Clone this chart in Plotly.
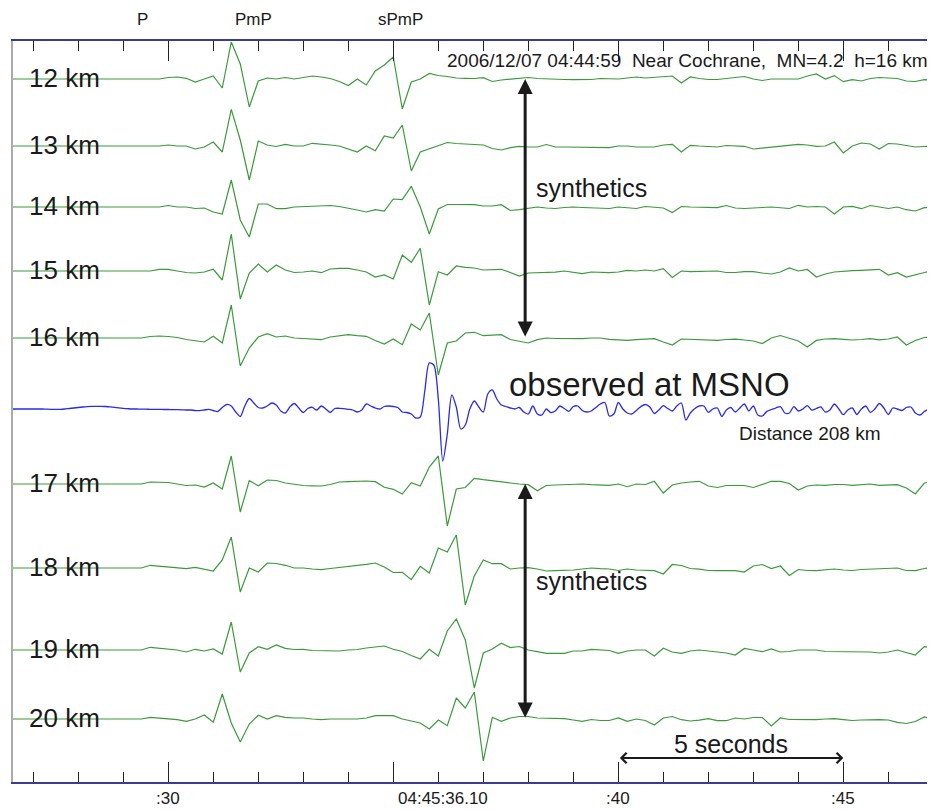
import numpy as np
import plotly.graph_objects as go

# time in seconds after 04:45:00
X_MIN, X_MAX = 26.55, 46.97
SYN_START, SYN_STEP = 29.4, 0.2
OBS_START, OBS_STEP = 26.5, 0.1

depth_labels = ["12 km", "13 km", "14 km", "15 km", "16 km",
                "17 km", "18 km", "19 km", "20 km"]

# synthetic amplitudes (29.4 s .. 47.0 s, every 0.2 s)
syn_12 = [0, 0, 0, 1.5, 2, 0.7, -3, 0, 3, -9,
          37, 15, -28, -2, 1, 0, 1.5, 0, 1.5, 3,
          2, 0.5, -2.5, -6.5, 0, -6, 8, 14, 22, -30,
          -3, 0, 5.5, 3.5, 2.5, 1, 0.7, 0.5, 1.3, -2.5,
          -1, 0, 0.5, 1.5, 0.5, 0, -0.5, -0.5, -0.7, -0.7,
          -0.5, 0.5, 0.5, 0, 1, 2, 1, 1.5, 2.5, 3,
          -4, 2, 0.5, -0.5, -0.5, 0.5, 1.5, 2.5, 0, -1.5,
          0, 0, 0, 0, 3, 5, 0, 3.4, -2.7, -0.7,
          -2, 0.5, 1.5, 1, 0.5, -2, -2.5, -0.7, -1.5]
syn_13 = [0, 0, 0, 1, 0, 0, -3, -1, 4, -6,
          36.7, 6, -34, 5, 1, -0.5, 1.7, 0, 0, 2.7,
          1.5, 1, 0, -3, -6, 0, -4.7, 10, 8, 21,
          -25, -6, -3, 0, 3.5, 2.5, 2, 1.5, 1, -2.5,
          -4, -1.7, -0.3, -1, -1, 1.5, -1, -1, -1, -1,
          -1.5, -1.7, -1.7, 0, 0, -1, -1, -1, 1, 1.7,
          -6, 0.7, 0, -0.5, -1, 0.5, 0, -0.3, -3, -2,
          -1, 0, 1, 1.7, 1, -0.3, 0, 4, -7, 0,
          3, 2, -3, 2.5, 2, 0.7, -1, -0.5, 0]
syn_14 = [0, 0, 0, 1.5, 0, 0, -1.5, -1, -5, -7,
          27, -13, -30, 3, 3, -1.7, -1.7, 0, 0.5, 0.7,
          1, 1.5, 0.5, -1, -3, -5, -2.7, -4, 8, 7.3,
          20.7, 0, -27, -2, 2.5, 2.5, 2.3, 2.3, 1, 1,
          2.3, -3.5, -2.7, -1, 0, -1, -1.5, -0.5, 0, -0.5,
          -0.7, -1.2, -1.5, 0, -1, -1.5, 0.5, 0, -1, -5.5,
          0.5, 0, 0, -0.5, -0.7, 1.5, -1, -1.5, -0.7, -0.5,
          0, -1, -1.5, 1.7, 0, 0.5, 0, -7, 0, 0.7,
          -1.7, 1.5, 0, -1.5, 0, -2.7, -4, -0.7, -0.7]
syn_15 = [0, 0, 1.7, 1.7, 0, -1.5, -2, -1, 1.7, -9,
          37, -28, -2, 7, -1, 6, 1, -1.5, -1, 0,
          -1.7, 2, 2.7, 2.7, 1, -1, -6, -4, -8, 16,
          8.7, 22.7, -34, -0.7, -4, 5, 3.7, 3, 1, 1.5,
          1.7, -1.5, -5, -2, -1.7, -1.7, -1.2, 0, -1.2, -2.7,
          -1, -1.5, -1.7, -1, 0.7, 0, 1, 0, 2.4, -6.5,
          0, -0.7, -0.5, 0, 0, -1.5, -1.5, -0.7, -0.7, -2,
          -3, -1, 3, 0, 1.5, -6, -3, -1, 0, 0.3,
          0.7, 1, 1.7, -4, -1.7, -6, -3.5, -1.5, 0.7]
syn_16 = [0, 1.5, 2, 1.5, 0.5, -1.5, -2.7, -4, 1.7, -5,
          33, -28, -10, 1, 4.3, 1, 2, 0, -0.5, -1,
          -1.7, 1, 2.5, 3.3, 2.3, 1.7, -2.5, -6, -1, -6.7,
          14, 8, 25, -37, -5, -3, 5, 5.7, 2.3, 3,
          3.3, -1.5, -3, -5, -1.7, 0, -0.5, -0.7, -0.7, -0.7,
          0, 0, -1.3, -1.7, -2.4, -1.7, -1.3, -0.7, -4, -7,
          -1, -1.5, -1.5, -2, -2.4, -1.5, -1.2, -2, -3, -5.5,
          0, 2.5, -0.5, -3, -9, -2.4, -1, -0.7, -1.3, -2,
          -1.5, -0.7, -1.8, -1, 1, -7, -2.5, 0.5, 1]
syn_17 = [0, 2, 2, 1.5, 0, -1.5, -1, -3, 1, -5,
          28, -28, 3.3, -1.7, 4, 3.5, 1, -0.5, -1.5, -1.8,
          -2, -0.5, 2, 2.3, 2.7, 3, 2.3, -3.3, -5.3, -10,
          1.3, -2, 17, 28, -42, -5, -3.5, 5.7, 4.3, 3,
          2.3, 1, 0, -0.7, -6.7, -1.5, -1, -0.7, 0, 0,
          -0.7, -1.3, -1.3, 0, -2.7, 0, -0.5, 2.7, -9, -1,
          1, 2, 2.7, -2, -3.5, -1.5, -1.5, -1.5, -3.5, 0,
          2.7, 2.7, 0.5, -6, -2, -1, -1.3, -0.5, -0.5, -1.3,
          -0.5, 0, -1.3, -0.7, -0.7, -4, -10, 1, 2.7]
syn_18 = [0, 2.7, 1.7, 1, 0, -0.7, 0.7, -1.5, -3, 8,
          31, -24, 0, -4, 5, 4.5, 2.7, 0, 0, -1,
          -1.7, -0.5, 0.5, 1, 2.5, 3.7, 5, 1, -4.5, -4.3,
          -11.7, 1.7, -5, 20, 16, 33, -37, -8, 8, 4.3,
          4.3, -1, 0, 0.3, -1, -3, -2.7, -2.5, -2, -1,
          0, -0.7, -1, -2.5, -1, -2, -2.7, -2.7, -6, 3.5,
          2.5, -0.5, -1.2, -2.5, -2.7, -2.7, -2.7, -4, 2, 3.5,
          -0.5, 2, -7.5, -1.5, -2.5, -2.7, -2, -1, -2, -2.5,
          -1.5, -1, -1, -0.5, 0, -2.5, -2.7, -0.5, 0.7]
syn_19 = [0, 2.7, 1.7, 0.5, 0, -2, 0.7, -1, 1, -4,
          28, -22, -3, 3.3, 0.7, 5, 1.7, 0.5, 0.7, -0.5,
          -0.7, -1.5, -1, 0, 0.5, 2, 3, 4, 0.7, -1.5,
          -5.5, -9, 0.7, -6, 19, 31, 10, -38, -3, 1,
          6.7, 2.4, 3.5, 0, -1.7, -3.4, -3.4, -3.4, -1, -1,
          0.7, 0, -0.5, -3.4, -1, 0, 0, -6, 1.7, -2,
          -3.4, -1, 0, -1, -1.7, -3, -5, 1.5, 0, -1.7,
          1, -2, -1.5, 0, 0, 0, -1.5, -1.7, -1.7, -1.7,
          -1.7, -2, -3, -2, 0, -2.5, -5, 3.4, 2.4]
syn_20 = [0, 1.7, 1, 0, -0.7, -2.3, 0, 4, -3.3, 25,
          -4, -23, -5, 3.7, 0, 3.3, 1.7, 1, 1, 0,
          -0.7, 0, 0, -0.7, 0, 1, 3.3, 3.3, 3.3, 0,
          -1.7, -4, -10, -1, -6.7, 21, 11, 27, -42, 1.7,
          -2.3, 1, 2.5, 2.5, 1, 1, 0.5, 0.3, -1, -2.4,
          -0.5, -1.5, -1.5, 1, -2.4, 0, -1.5, -6, 1, 2.5,
          -0.7, -2, -1.2, 0.3, -1.7, -1.7, 1, 0, 1.5, 1.5,
          -7, 1, -0.5, -0.7, -0.7, -0.7, 0, 0.3, -0.7, -1.5,
          -1, -0.7, -0.7, -1, -3.4, -4.5, -2.5, 2, 0]
synthetics = [syn_12, syn_13, syn_14, syn_15, syn_16,
              syn_17, syn_18, syn_19, syn_20]

# observed record at MSNO (26.5 s .. 47.0 s, every 0.1 s)
observed_msno = [0,
    0, 0, 0, 0, 0, 0, 0, -0.2, -0.3, -0.3,
    -0.3, 0, 0.5, 1, 1.5, 2, 2.4, 2.6, 2.7, 2.7,
    2.5, 2.2, 1.7, 1.2, 0.7, 0.3, 0, 0, -0.2, -0.2,
    -0.3, -0.3, -0.3, -0.5, -0.5, -0.7, -0.7, -0.8, -1, -1,
    -1.5, -1.7, -1, -0.3, -1.5, -2.5, 1.5, 4.5, 3, -3,
    -7.5, 3, 10.5, 6, 1.5, 1, 3, 6, 4, -2,
    -4, 2, 5.5, 1, -3.5, 0.5, 1.7, -1, 3, 0,
    -3.5, 0.5, 0.7, 0.3, -0.3, -1, -3, -1, 5, 3,
    1, 0, 2.5, 3, 2.5, 1.5, -3, -3.5, -5, -9,
    -8, 18, 46, 44, 10, -52, -25, 14, 2, -20,
    -16, 0, 8, 2, -3, 15, 19, 10, 4,
    2.5, 1, 0, 1.5, -3, -5, 3, -5, -6, 0,
    -3.5, -2, 3, 0.5, -2.4, 2.5, 3, -1.5, -3, -2,
    1.5, 5, 6.5, -7, -5, 6.5, 0, -4, -5, -1.5,
    2.4, 4.5, 2, -4.5, -1, 3.4, 0.5, -2, 3, 6,
    -11, -4, 0.5, 3, 3, -3.4, 0, 1, -7.5, -1,
    1.5, -3, 1, 5, -2, 3, -6, -7, -2.4, -0.5,
    1, 2.4, -4, -4, 2.4, -2, 0, 3.4, -1, 0.5,
    2, -3, -1, 5, 0, -5.7, -1, 1, -5.5, 0,
    3, -3.4, 0, 5.5, 1, -5.5, 1, 0, -1.5, 1.5,
    2, -4, -6, -2.5, 0, 1.7]

phase_names = ["P", "PmP", "sPmP"]
phase_label_times = [29.42, 31.9, 35.15]
phase_line_times = [29.42, 31.58, 36.1]
time_tick_vals = [30, 36.1, 40, 45]
time_tick_text = [":30", "04:45:36.10", ":40", ":45"]

# trace baselines (y units are screen pixels from the bottom axis)
BASE = {"12 km": 703, "13 km": 636, "14 km": 575, "15 km": 511, "16 km": 444,
        "observed": 373, "17 km": 298, "18 km": 214, "19 km": 132, "20 km": 63}

FONT = "Arial, Liberation Sans, sans-serif"
GREEN = "#3a9a3a"
BLUE = "#2a2ae8"

fig = go.Figure()

for name, vals in zip(depth_labels, synthetics):
    t = [X_MIN - 0.1] + list(SYN_START + SYN_STEP * np.arange(len(vals)))
    y = [BASE[name]] + [BASE[name] + v for v in vals]
    fig.add_trace(go.Scatter(x=t, y=y, mode="lines", name=name,
                             line=dict(color=GREEN, width=1.2)))

t_obs = OBS_START + OBS_STEP * np.arange(len(observed_msno))
fig.add_trace(go.Scatter(x=t_obs, y=[BASE["observed"] + v for v in observed_msno],
                         mode="lines", name="MSNO",
                         line=dict(color=BLUE, width=1.3, shape="spline", smoothing=0.8)))

for t, c in zip(phase_line_times, ["#c8c8c8", "#8a8a8a", "#c8c8c8"]):
    fig.add_vline(x=t, line_color=c, line_width=1.5, layer="below")

ann = []
for name in depth_labels:
    ann.append(dict(x=0.0152, xref="paper", y=BASE[name] + 1, yref="y", text=name,
                    showarrow=False, xanchor="left", yanchor="middle",
                    font=dict(size=26, color="#1a1a1a", family=FONT)))

# phase names sit above the frame, kept inside the figure
for name, t in zip(phase_names, phase_label_times):
    ann.append(dict(x=t, xref="x", y=1, yref="paper", yshift=32, text=name,
                    showarrow=False, xanchor="center", yanchor="top", borderpad=0,
                    font=dict(size=17, color="#1a1a1a", family=FONT)))

for v, txt in zip(time_tick_vals, time_tick_text):
    ann.append(dict(x=v, xref="x", y=0, yref="paper", yshift=-5, text=txt,
                    showarrow=False, xanchor="center", yanchor="top",
                    font=dict(size=17, color="#1a1a1a", family=FONT)))

sp = "\u00a0\u00a0"
ann += [
    dict(x=36.15, y=722, text=f"2006/12/07 04:44:59{sp}Near Cochrane,{sp}MN=4.2{sp}h=16 km",
         showarrow=False, xanchor="left", yanchor="middle",
         font=dict(size=19, color="#1a1a1a", family=FONT)),
    dict(x=38.13, y=594, text="synthetics", showarrow=False, xanchor="left",
         yanchor="middle", font=dict(size=25, color="#1a1a1a", family=FONT)),
    dict(x=38.13, y=201, text="synthetics", showarrow=False, xanchor="left",
         yanchor="middle", font=dict(size=25, color="#1a1a1a", family=FONT)),
    dict(x=37.53, y=398, text="observed at MSNO", showarrow=False, xanchor="left",
         yanchor="middle", font=dict(size=33, color="#1a1a1a", family=FONT)),
    dict(x=42.64, y=349, text="Distance 208 km", showarrow=False, xanchor="left",
         yanchor="middle", font=dict(size=19, color="#1a1a1a", family=FONT)),
    dict(x=42.5, y=38, text="5 seconds", showarrow=False, xanchor="center",
         yanchor="middle", font=dict(size=25, color="#1a1a1a", family=FONT)),
]

# double-headed arrows
ARROW_T = 37.93
for top, bottom in [("12 km", "16 km"), ("17 km", "20 km")]:
    ann.append(dict(x=ARROW_T, y=BASE[top], ax=ARROW_T, ay=BASE[bottom],
                    xref="x", yref="y", axref="x", ayref="y", text="",
                    showarrow=True, arrowhead=2, startarrowhead=2,
                    arrowside="end+start", arrowwidth=3, arrowsize=1,
                    startarrowsize=1, arrowcolor="#1a1a1a",
                    standoff=0, startstandoff=0))
ann.append(dict(x=45, y=24, ax=40, ay=24, xref="x", yref="y", axref="x", ayref="y",
                text="", showarrow=True, arrowhead=4, startarrowhead=4,
                arrowside="end+start", arrowwidth=2, arrowsize=1, startarrowsize=1,
                arrowcolor="#1a1a1a", standoff=0, startstandoff=0))

# page body adds an 8px offset, so the figure is 8px smaller than the window
fig.update_layout(
    width=927, height=802,
    margin=dict(l=5, r=3, t=33, b=28),
    plot_bgcolor="white", paper_bgcolor="white",
    showlegend=False,
    annotations=ann,
    xaxis=dict(range=[X_MIN, X_MAX], showgrid=False, zeroline=False,
               showline=True, linecolor="#3b3b8f", linewidth=1.5, mirror="ticks",
               ticks="inside", tick0=30, dtick=5, ticklen=20, tickcolor="#222",
               tickwidth=1, showticklabels=False,
               minor=dict(ticks="inside", tick0=30, dtick=1, ticklen=10,
                          tickcolor="#222", tickwidth=1, showgrid=False)),
    yaxis=dict(range=[0, 741], showgrid=False, zeroline=False, showticklabels=False,
               ticks="", showline=True, linecolor="#aaaaaa", linewidth=1.5),
    shapes=[dict(type="line", xref="paper", yref="paper", x0=1, x1=1, y0=0, y1=1,
                 line=dict(color="#3a3ad0", width=1.5))],
)

fig.write_html("out.html")
